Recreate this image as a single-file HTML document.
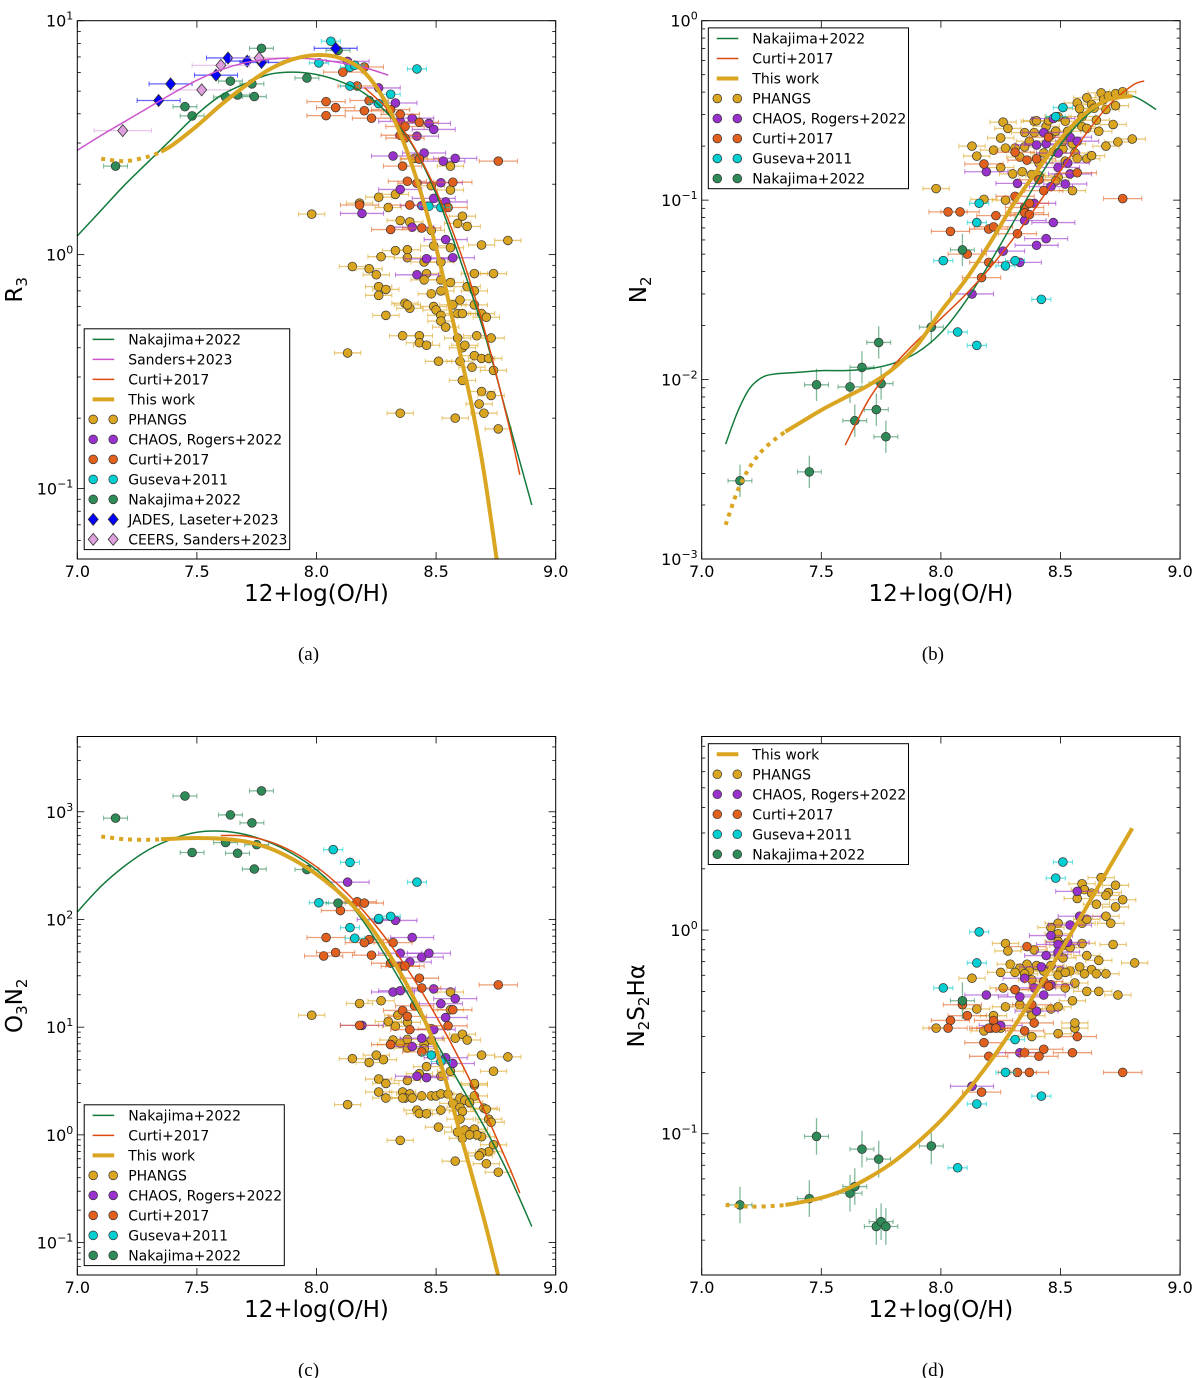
<!DOCTYPE html>
<html><head><meta charset="utf-8"><style>
html,body{margin:0;padding:0;background:#fff;}
svg{display:block;font-family:"DejaVu Sans","Liberation Sans",sans-serif;}
</style></head><body>
<svg id="fig" xmlns="http://www.w3.org/2000/svg" width="1200" height="1378" viewBox="0 0 1200 1378"></svg>
<script>
// ---------------- DATA ----------------
// panel a : R3
const a_phangs=[[8.41,2.58],[8.56,2.39],[8.48,1.97],[8.56,1.89],[8.26,1.76],[8.33,1.81],[8.30,1.59],[8.18,1.66],[7.98,1.49],[8.35,1.40],[8.39,1.38],[8.48,1.27],[8.59,1.36],[8.61,1.46],[8.63,1.32],[8.49,1.09],[8.56,1.07],[8.69,1.10],[8.80,1.15],[8.33,1.04],[8.38,1.05],[8.38,0.97],[8.27,0.98],[8.45,0.93],[8.52,0.93],[8.46,0.83],[8.45,0.78],[8.52,0.78],[8.56,0.76],[8.66,0.83],[8.74,0.83],[8.15,0.89],[8.22,0.87],[8.25,0.82],[8.26,0.73],[8.29,0.71],[8.26,0.67],[8.48,0.68],[8.52,0.70],[8.63,0.73],[8.66,0.70],[8.60,0.64],[8.57,0.61],[8.66,0.61],[8.37,0.62],[8.39,0.59],[8.38,0.61],[8.49,0.60],[8.50,0.58],[8.52,0.55],[8.52,0.52],[8.59,0.56],[8.61,0.56],[8.69,0.56],[8.71,0.54],[8.29,0.55],[8.54,0.49],[8.36,0.45],[8.43,0.45],[8.43,0.42],[8.46,0.41],[8.59,0.44],[8.67,0.45],[8.73,0.44],[8.61,0.40],[8.62,0.41],[8.13,0.38],[8.51,0.35],[8.60,0.35],[8.66,0.37],[8.69,0.36],[8.72,0.36],[8.65,0.33],[8.74,0.32],[8.61,0.29],[8.69,0.26],[8.68,0.23],[8.73,0.25],[8.35,0.21],[8.58,0.20],[8.70,0.21],[8.76,0.18]];
const a_chaos=[[8.13,6.70],[8.26,5.16],[8.33,4.45],[8.35,3.71],[8.40,3.83],[8.47,3.64],[8.49,3.43],[8.42,3.21],[8.32,2.64],[8.45,2.72],[8.53,2.51],[8.58,2.58],[8.52,2.03],[8.35,1.90],[8.49,1.74],[8.54,1.68],[8.19,1.50],[8.44,1.62],[8.40,1.31],[8.54,1.16],[8.46,0.96],[8.57,0.97],[8.42,0.82]];
const a_curti=[[8.11,6.03],[8.20,6.34],[8.17,5.26],[8.22,4.56],[8.04,4.51],[8.08,4.25],[8.04,3.93],[8.20,4.12],[8.23,3.83],[8.31,4.17],[8.35,3.98],[8.37,3.53],[8.43,3.68],[8.35,3.24],[8.37,3.15],[8.43,2.56],[8.36,2.39],[8.76,2.51],[8.38,2.06],[8.42,2.02],[8.57,2.04],[8.18,1.63],[8.39,1.63],[8.55,1.59],[8.31,1.28],[8.44,1.30]];
const a_guseva=[[8.06,8.17],[8.01,6.60],[8.14,6.32],[8.16,6.45],[8.14,5.26],[8.31,4.85],[8.26,4.42],[8.42,6.22],[8.47,1.61],[8.52,1.59]];
const a_nakajima=[[7.16,2.39],[7.45,4.29],[7.48,3.92],[7.62,4.72],[7.67,4.81],[7.74,4.74],[7.73,5.37],[7.64,5.52],[7.77,7.62],[7.96,5.69],[8.09,7.47]];
const a_jades=[[7.34,4.56],[7.39,5.37],[7.58,5.85],[7.63,6.93],[7.71,6.72],[7.77,6.63],[8.08,7.62]];
const a_ceers=[[7.19,3.39],[7.52,5.06],[7.60,6.44],[7.76,6.93]];
const a_nakCurveX=[7.0,7.1,7.2,7.3,7.4,7.5,7.6,7.7,7.8,7.9,8.0,8.1,8.2,8.3,8.4,8.5,8.6,8.7,8.8,8.9];
const a_nakCurveLog=[0.08,0.19,0.30,0.40,0.50,0.60,0.68,0.73,0.77,0.78,0.77,0.74,0.69,0.60,0.47,0.26,-0.02,-0.33,-0.70,-1.07];
const a_sanCurveX=[7.0,7.1,7.2,7.3,7.4,7.5,7.6,7.7,7.8,7.9,8.0,8.1,8.2,8.3];
const a_sanCurveLog=[0.446,0.51,0.57,0.63,0.69,0.745,0.79,0.82,0.835,0.84,0.835,0.82,0.80,0.767];
const a_curCurveX=[8.2,8.3,8.4,8.5,8.6,8.7,8.8,8.85];
const a_curCurveLog=[0.714,0.618,0.474,0.274,0.014,-0.313,-0.712,-0.941];
const a_goldCurveX=[7.1,7.2,7.3,7.35,7.4,7.5,7.6,7.7,7.8,7.9,8.0,8.1,8.2,8.3,8.4,8.5,8.6,8.65,8.7,8.76];
const a_goldCurveLog=[0.41,0.40,0.42,0.44,0.47,0.55,0.64,0.72,0.79,0.835,0.853,0.84,0.78,0.63,0.38,0.03,-0.42,-0.65,-0.93,-1.35];

// panel b : N2
const b_phangs=[[7.98,0.116],[8.13,0.200],[8.15,0.176],[8.18,0.101],[8.22,0.190],[8.25,0.152],[8.25,0.222],[8.26,0.272],[8.27,0.195],[8.28,0.251],[8.30,0.140],[8.31,0.195],[8.33,0.174],[8.34,0.144],[8.35,0.238],[8.35,0.198],[8.37,0.213],[8.39,0.238],[8.39,0.275],[8.38,0.139],[8.40,0.277],[8.41,0.161],[8.43,0.183],[8.44,0.258],[8.45,0.277],[8.46,0.230],[8.47,0.186],[8.48,0.242],[8.49,0.134],[8.49,0.292],[8.51,0.193],[8.51,0.213],[8.52,0.275],[8.53,0.242],[8.55,0.206],[8.56,0.183],[8.55,0.113],[8.57,0.171],[8.57,0.348],[8.58,0.323],[8.59,0.257],[8.59,0.292],[8.61,0.251],[8.61,0.170],[8.61,0.372],[8.63,0.341],[8.64,0.325],[8.65,0.279],[8.66,0.242],[8.67,0.396],[8.68,0.363],[8.69,0.320],[8.70,0.382],[8.72,0.264],[8.73,0.336],[8.73,0.392],[8.74,0.211],[8.69,0.200],[8.76,0.402],[8.80,0.219],[8.63,0.177],[8.27,0.100],[8.41,0.137],[8.48,0.128],[8.52,0.165]];
const b_chaos=[[8.19,0.144],[8.32,0.124],[8.39,0.096],[8.35,0.077],[8.47,0.075],[8.44,0.061],[8.40,0.056],[8.26,0.052],[8.33,0.045],[8.13,0.030],[8.40,0.203],[8.44,0.206],[8.43,0.238],[8.47,0.285],[8.49,0.183],[8.49,0.152],[8.54,0.140],[8.52,0.123],[8.54,0.224],[8.57,0.213],[8.53,0.161],[8.46,0.119]];
const b_curti=[[8.03,0.086],[8.08,0.086],[8.04,0.067],[8.18,0.159],[8.20,0.069],[8.22,0.071],[8.23,0.082],[8.31,0.105],[8.31,0.185],[8.35,0.091],[8.35,0.085],[8.37,0.096],[8.36,0.167],[8.40,0.170],[8.41,0.130],[8.43,0.113],[8.45,0.224],[8.32,0.065],[8.11,0.050],[8.20,0.045],[8.17,0.037],[8.57,0.142],[8.76,0.102],[8.37,0.083]];
const b_guseva=[[8.01,0.046],[8.07,0.0184],[8.15,0.0155],[8.15,0.075],[8.16,0.096],[8.27,0.043],[8.31,0.046],[8.42,0.028],[8.48,0.292],[8.51,0.328]];
const b_nakajima=[[7.16,0.00273],[7.45,0.00306],[7.48,0.00935],[7.62,0.0091],[7.64,0.0059],[7.67,0.0117],[7.73,0.0068],[7.75,0.0095],[7.74,0.0161],[7.77,0.0048],[7.96,0.0196],[8.09,0.0528]];
const b_nakCurveX=[7.1,7.15,7.2,7.25,7.3,7.4,7.5,7.6,7.7,7.8,7.9,8.0,8.1,8.2,8.3,8.4,8.5,8.6,8.7,8.8,8.9];
const b_nakCurveLog=[-2.36,-2.18,-2.05,-1.99,-1.97,-1.96,-1.95,-1.95,-1.94,-1.91,-1.85,-1.74,-1.57,-1.36,-1.13,-0.90,-0.69,-0.54,-0.44,-0.42,-0.495];
const b_curCurveX=[7.6,7.7,7.8,7.9,8.0,8.1,8.2,8.3,8.4,8.5,8.6,8.7,8.8,8.85];
const b_curCurveLog=[-2.365,-2.108,-1.927,-1.785,-1.66,-1.531,-1.385,-1.219,-1.034,-0.836,-0.642,-0.474,-0.361,-0.336];
const b_goldCurveX=[7.1,7.15,7.2,7.25,7.3,7.35,7.4,7.5,7.6,7.7,7.8,7.9,8.0,8.1,8.2,8.3,8.4,8.5,8.6,8.7,8.8];
const b_goldCurveLog=[-2.81,-2.62,-2.49,-2.40,-2.34,-2.29,-2.25,-2.17,-2.10,-2.03,-1.94,-1.81,-1.62,-1.45,-1.25,-1.03,-0.84,-0.66,-0.52,-0.44,-0.42];

// panel c : O3N2
const c_phangs=[[8.56,21.2],[8.27,17.6],[8.18,16.6],[7.98,12.9],[8.30,11.3],[8.34,12.9],[8.33,10.2],[8.38,11.1],[8.32,7.6],[8.35,7.1],[8.38,7.7],[8.48,9.7],[8.48,7.6],[8.45,6.9],[8.58,7.9],[8.61,8.6],[8.63,7.6],[8.56,14.5],[8.31,6.9],[8.38,6.4],[8.28,5.0],[8.25,5.5],[8.15,5.1],[8.22,4.7],[8.45,6.3],[8.46,4.3],[8.43,3.7],[8.52,3.5],[8.56,3.9],[8.69,5.5],[8.80,5.3],[8.74,3.9],[8.26,3.3],[8.29,3.0],[8.38,3.2],[8.36,2.5],[8.39,2.4],[8.37,2.2],[8.44,2.3],[8.48,2.3],[8.50,2.3],[8.52,2.4],[8.55,2.4],[8.26,2.5],[8.29,2.2],[8.36,2.2],[8.40,2.2],[8.66,2.9],[8.66,2.3],[8.60,2.2],[8.62,2.1],[8.57,1.96],[8.60,1.80],[8.61,1.65],[8.64,2.0],[8.66,3.0],[8.70,1.77],[8.71,1.73],[8.42,1.70],[8.43,1.58],[8.46,1.57],[8.52,1.70],[8.60,1.40],[8.51,1.18],[8.59,1.06],[8.62,1.11],[8.65,1.08],[8.66,1.13],[8.61,0.93],[8.69,0.96],[8.67,1.0],[8.74,0.81],[8.72,0.70],[8.69,0.68],[8.68,0.64],[8.72,1.40],[8.73,1.31],[8.35,0.89],[8.58,0.57],[8.71,0.54],[8.76,0.45],[8.13,1.91],[8.64,1.0]];
const c_chaos=[[8.13,222],[8.26,100],[8.33,98],[8.40,68],[8.35,48.6],[8.39,40.3],[8.44,44.7],[8.47,48.6],[8.32,21.2],[8.35,21.8],[8.49,22.7],[8.58,18.4],[8.52,16.5],[8.54,12.3],[8.49,9.5],[8.44,7.9],[8.40,6.6],[8.54,5.2],[8.57,4.6],[8.19,10.4],[8.42,3.5],[8.46,3.4]];
const c_curti=[[8.17,146],[8.20,142],[8.10,121],[8.04,68],[8.22,65],[8.20,61],[8.03,45.8],[8.08,49.4],[8.23,46.6],[8.32,61],[8.31,39.3],[8.35,36.7],[8.37,37],[8.43,28.5],[8.44,23.1],[8.41,15.8],[8.36,14.3],[8.38,12.6],[8.57,14.5],[8.55,10.3],[8.39,9.5],[8.44,5.9],[8.18,10.4],[8.31,6.9],[8.76,24.7]];
const c_guseva=[[8.07,445],[8.14,339],[8.01,143],[8.14,84],[8.16,67],[8.26,102],[8.31,107],[8.42,222],[8.48,5.5],[8.52,4.8]];
const c_nakajima=[[7.16,873],[7.45,1402],[7.77,1563],[7.64,935],[7.73,789],[7.48,419],[7.62,518],[7.67,412],[7.75,495],[7.74,294],[7.96,291],[8.09,142]];
const c_nakCurveX=[7.0,7.1,7.2,7.3,7.4,7.5,7.6,7.7,7.8,7.9,8.0,8.1,8.2,8.3,8.4,8.5,8.6,8.7,8.8,8.9];
const c_nakCurveLog=[2.07,2.31,2.50,2.65,2.75,2.81,2.82,2.79,2.72,2.61,2.46,2.25,1.97,1.62,1.24,0.86,0.47,0.08,-0.35,-0.85];
const c_curCurveX=[7.6,7.7,7.8,7.9,8.0,8.1,8.2,8.3,8.4,8.5,8.6,8.7,8.8,8.85];
const c_curCurveLog=[2.78,2.775,2.726,2.63,2.489,2.303,2.071,1.794,1.472,1.104,0.692,0.233,-0.270,-0.539];
const c_goldCurveX=[7.1,7.2,7.3,7.35,7.4,7.5,7.6,7.7,7.8,7.9,8.0,8.1,8.2,8.3,8.4,8.5,8.6,8.7,8.77];
const c_goldCurveLog=[2.77,2.745,2.74,2.745,2.75,2.757,2.75,2.725,2.665,2.56,2.42,2.24,2.01,1.69,1.30,0.80,0.02,-0.78,-1.40];

// panel d : N2S2Ha
const d_phangs=[[8.67,1.81],[8.59,1.69],[8.60,1.58],[8.63,1.52],[8.73,1.66],[8.70,1.53],[8.57,1.43],[8.69,1.48],[8.76,1.41],[8.65,1.34],[8.73,1.30],[8.69,1.17],[8.71,1.08],[8.49,1.08],[8.59,1.08],[8.61,1.13],[8.46,1.03],[8.49,0.96],[8.49,0.88],[8.51,0.84],[8.54,0.82],[8.59,0.86],[8.72,0.85],[8.27,0.86],[8.28,0.79],[8.39,0.80],[8.49,0.76],[8.51,0.73],[8.61,0.75],[8.29,0.68],[8.36,0.68],[8.40,0.67],[8.33,0.65],[8.37,0.63],[8.43,0.63],[8.46,0.67],[8.50,0.63],[8.54,0.63],[8.58,0.66],[8.63,0.64],[8.66,0.71],[8.25,0.62],[8.31,0.62],[8.35,0.61],[8.49,0.60],[8.52,0.62],[8.60,0.61],[8.65,0.61],[8.69,0.61],[8.13,0.58],[8.26,0.52],[8.31,0.51],[8.38,0.57],[8.52,0.52],[8.56,0.55],[8.61,0.50],[8.66,0.50],[8.74,0.48],[8.43,0.55],[8.81,0.69],[8.15,0.41],[8.27,0.42],[8.33,0.43],[8.37,0.41],[8.46,0.41],[8.49,0.42],[8.55,0.45],[8.38,0.38],[8.22,0.38],[8.25,0.33],[8.18,0.32],[8.38,0.30],[8.49,0.31],[8.56,0.33],[8.56,0.35],[7.98,0.33]];
const d_chaos=[[8.57,1.55],[8.58,1.17],[8.54,1.06],[8.46,0.94],[8.53,0.87],[8.49,0.85],[8.49,0.78],[8.44,0.75],[8.42,0.66],[8.35,0.58],[8.39,0.52],[8.33,0.47],[8.43,0.48],[8.46,0.54],[8.19,0.48],[8.25,0.34],[8.40,0.40],[8.33,0.25],[8.13,0.171]];
const d_curti=[[8.36,0.83],[8.31,0.51],[8.43,0.56],[8.45,0.53],[8.09,0.43],[8.11,0.38],[8.04,0.36],[8.03,0.33],[8.22,0.36],[8.21,0.33],[8.20,0.33],[8.23,0.33],[8.18,0.28],[8.20,0.24],[8.35,0.32],[8.39,0.35],[8.38,0.43],[8.35,0.25],[8.43,0.26],[8.41,0.24],[8.57,0.30],[8.55,0.25],[8.32,0.20],[8.37,0.20],[8.17,0.16],[8.76,0.20]];
const d_guseva=[[8.51,2.16],[8.48,1.80],[8.16,0.98],[8.15,0.69],[8.01,0.52],[8.07,0.068],[8.15,0.14],[8.27,0.20],[8.31,0.29],[8.42,0.153]];
const d_nakajima=[[7.16,0.0447],[7.45,0.048],[7.48,0.097],[7.62,0.051],[7.64,0.055],[7.67,0.084],[7.73,0.035],[7.75,0.037],[7.74,0.075],[7.77,0.035],[7.96,0.087],[8.09,0.45]];
const d_goldCurveX=[7.1,7.2,7.3,7.35,7.4,7.5,7.6,7.7,7.8,7.9,8.0,8.1,8.2,8.3,8.4,8.5,8.6,8.7,8.8];
const d_goldCurveLog=[-1.35,-1.358,-1.355,-1.35,-1.34,-1.315,-1.275,-1.215,-1.14,-1.045,-0.935,-0.805,-0.655,-0.485,-0.30,-0.105,0.095,0.30,0.50];

const xTicks=[7.0,7.5,8.0,8.5,9.0];
const xTickLabels=["7.0","7.5","8.0","8.5","9.0"];

// ---------------- DRAWING ----------------
const NS="http://www.w3.org/2000/svg";
const svg=document.getElementById('fig');
function el(tag,attrs,parent){const e=document.createElementNS(NS,tag);for(const k in attrs)e.setAttribute(k,attrs[k]);(parent||svg).appendChild(e);return e;}

const COL={phangs:'#DAA520',chaos:'#9932CC',curti:'#E2601E',guseva:'#00CED1',nakajima:'#2E8B57',jades:'#0000FF',ceers:'#DDA0DD'};
const XERR={phangs:0.055,chaos:0.09,curti:0.08,guseva:0.04,nakajima:0.05,jades:0.09,ceers:0.12};
const LCOL={nak:'#127A3C',san:'#CC55CC',cur:'#DD4A10',gold:'#DAA520'};

function panel(id,g,cfg){
  const grp=el('g',{});
  
  
  const sx=x=>g.L+(x-7)/2*(g.R-g.L);
  const sy=v=>g.T+(g.lt-Math.log10(v))/(g.lt-g.lb)*(g.B-g.T);
  const syl=l=>g.T+(g.lt-l)/(g.lt-g.lb)*(g.B-g.T);
  const cid='clip-'+id;
  const cp=el('clipPath',{id:cid},grp);el('rect',{x:g.L,y:g.T,width:g.R-g.L,height:g.B-g.T},cp);
  el('rect',{x:g.L,y:g.T,width:g.R-g.L,height:g.B-g.T,fill:'#fff'},grp);
  const plot=el('g',{'clip-path':'url(#'+cid+')'},grp);
  const drawSeries=(name,pts,shape)=>{
    const sg=el('g',{},plot);
    
    
    pts.forEach(p=>{
      const cx=sx(p[0]),cy=sy(p[1]),e=XERR[name];
      const x1=sx(p[0]-e),x2=sx(p[0]+e);
      el('line',{x1:x1,y1:cy,x2:x2,y2:cy,stroke:COL[name],'stroke-width':1.3,'stroke-opacity':0.6},sg);
      el('line',{x1:x1,y1:cy-2.5,x2:x1,y2:cy+2.5,stroke:COL[name],'stroke-width':1,'stroke-opacity':0.6},sg);
      el('line',{x1:x2,y1:cy-2.5,x2:x2,y2:cy+2.5,stroke:COL[name],'stroke-width':1,'stroke-opacity':0.6},sg);
      if(name==='nakajima'&&(id==='b'||id==='d')){
        const y1=syl(Math.log10(p[1])+0.09),y2=syl(Math.log10(p[1])-0.09);
        el('line',{x1:cx,y1:y1,x2:cx,y2:y2,stroke:COL[name],'stroke-width':1.3,'stroke-opacity':0.6},sg);
      }
      if(shape==='d'){
        el('polygon',{points:`${cx},${cy-6} ${cx+5},${cy} ${cx},${cy+6} ${cx-5},${cy}`,fill:COL[name],stroke:'#333','stroke-width':0.8},sg);
      }else{
        el('circle',{cx:cx,cy:cy,r:4.4,fill:COL[name],stroke:'#333','stroke-width':0.7},sg);
      }
    });
  };
  cfg.series.forEach(s=>drawSeries(s[0],s[1],s[2]));
  const smooth=pts=>{let d=`M${pts[0][0]},${pts[0][1]}`;for(let i=0;i<pts.length-1;i++){const p0=pts[Math.max(i-1,0)],p1=pts[i],p2=pts[i+1],p3=pts[Math.min(i+2,pts.length-1)];
    d+=` C${p1[0]+(p2[0]-p0[0])/6},${p1[1]+(p2[1]-p0[1])/6} ${p2[0]-(p3[0]-p1[0])/6},${p2[1]-(p3[1]-p1[1])/6} ${p2[0]},${p2[1]}`;}return d;};
  cfg.curves.forEach(c=>{
    const pts=c.x.map((x,i)=>[sx(x),syl(c.y[i])]);
    if(c.split){
      const dot=pts.filter((p,i)=>c.x[i]<=c.split),sol=pts.filter((p,i)=>c.x[i]>=c.split);
      const p1=el('path',{d:smooth(dot),fill:'none',stroke:c.color,'stroke-width':c.w,'stroke-dasharray':'4,5'},plot);
      
      
      const p2=el('path',{d:smooth(sol),fill:'none',stroke:c.color,'stroke-width':c.w},plot);
      
      
    }else{
      const p=el('path',{d:smooth(pts),fill:'none',stroke:c.color,'stroke-width':c.w},plot);
      
      
    }
  });
  el('rect',{x:g.L,y:g.T,width:g.R-g.L,height:g.B-g.T,fill:'none',stroke:'#000','stroke-width':1},grp);
  const xg=el('g',{},grp);
  
  
  xTicks.forEach((t,i)=>{const x=sx(t);
    el('line',{x1:x,y1:g.B,x2:x,y2:g.B-7,stroke:'#000','stroke-width':0.8},xg);
    el('line',{x1:x,y1:g.T,x2:x,y2:g.T+7,stroke:'#000','stroke-width':0.8},xg);
    const tx=el('text',{x:x,y:g.B+18,'font-size':16,'text-anchor':'middle'},xg);tx.textContent=xTickLabels[i];
    
    
  });
  const xl=el('text',{x:(g.L+g.R)/2,y:g.B+42,'font-size':23,'text-anchor':'middle'},grp);xl.textContent='12+log(O/H)';
  
  
  const yg=el('g',{},grp);
  
  
  for(let dcd=Math.floor(g.lb);dcd<=Math.ceil(g.lt);dcd++){
    for(let m=1;m<10;m++){const l=dcd+Math.log10(m);if(l<g.lb-1e-6||l>g.lt+1e-6)continue;const y=syl(l);const len=m===1?7:3.5;
      el('line',{x1:g.L,y1:y,x2:g.L+len,y2:y,stroke:'#000','stroke-width':0.8},yg);
      el('line',{x1:g.R,y1:y,x2:g.R-len,y2:y,stroke:'#000','stroke-width':0.8},yg);
      if(m===1){const t=el('text',{x:g.L-4,y:y+6,'font-size':16,'text-anchor':'end'},yg);
        t.appendChild(document.createTextNode('10'));
        const s=el('tspan',{dy:-7,'font-size':11},t);s.textContent=(dcd<0?'\u2212'+(-dcd):String(dcd));
        
        }
    }
  }
  const ylc=(g.T+g.B)/2;
  const yl=el('text',{x:g.ylx,y:ylc,'font-size':23,'text-anchor':'middle',transform:`rotate(-90 ${g.ylx} ${ylc})`},grp);
  cfg.ylabel.forEach(part=>{
    const a={};
    if(part[1]==='sub'){a['font-size']=15;a.dy=5;}
    else if(part[1]==='up'){a.dy=-5;}
    const s=el('tspan',a,yl);s.textContent=part[0];});
  
  
  const lg=el('g',{},grp);
  
  
  const L=cfg.leg;
  el('rect',{x:L.x,y:L.y,width:L.w,height:10.6*2+20*(L.items.length-1)-0.4,fill:'#fff',stroke:'#000','stroke-width':1},lg);
  L.items.forEach((it,i)=>{
    const y=L.y+10.6+20*i;
    const eg=el('g',{},lg);
    
    
    if(it.line){el('line',{x1:L.x+8.4,y1:y,x2:L.x+30,y2:y,stroke:it.color,'stroke-width':it.w},eg);}
    else{[L.x+9,L.x+29].forEach(cx=>{
      el('line',{x1:cx-4.5,y1:y,x2:cx+4.5,y2:y,stroke:COL[it.key],'stroke-width':1.2,'stroke-opacity':0.6},eg);
      el('line',{x1:cx,y1:y-4.5,x2:cx,y2:y+4.5,stroke:COL[it.key],'stroke-width':1.2,'stroke-opacity':0.6},eg);
      if(it.diamond)el('polygon',{points:`${cx},${y-6} ${cx+5},${y} ${cx},${y+6} ${cx-5},${y}`,fill:COL[it.key],stroke:'#333','stroke-width':0.8},eg);
      else el('circle',{cx:cx,cy:y,r:4.4,fill:COL[it.key],stroke:'#333','stroke-width':0.7},eg);});}
    const t=el('text',{x:L.x+44,y:y+5,'font-size':14},eg);t.textContent=it.label;
  });
  const cap=el('text',{x:(g.L+g.R)/2-8,y:g.B+101,'font-size':19,'text-anchor':'middle','font-family':'"Liberation Serif",serif'},grp);cap.textContent='('+id+')';
  
  
}

const ptsLeg=[{key:'phangs',label:'PHANGS'},{key:'chaos',label:'CHAOS, Rogers+2022'},{key:'curti',label:'Curti+2017'},{key:'guseva',label:'Guseva+2011'},{key:'nakajima',label:'Nakajima+2022'}];
const lNak={line:1,color:LCOL.nak,w:1.5,label:'Nakajima+2022'},lSan={line:1,color:LCOL.san,w:1.5,label:'Sanders+2023'},lCur={line:1,color:LCOL.cur,w:1.5,label:'Curti+2017'},lGold={line:1,color:LCOL.gold,w:4,label:'This work'};

panel('a',{L:77.3,R:555.7,T:20.7,B:559,lt:1,lb:-1.301,ylx:22},{
  series:[['phangs',a_phangs],['chaos',a_chaos],['curti',a_curti],['guseva',a_guseva],['nakajima',a_nakajima],['jades',a_jades,'d'],['ceers',a_ceers,'d']],
  curves:[{name:'nakajima-curve',x:a_nakCurveX,y:a_nakCurveLog,color:LCOL.nak,w:1.5},{name:'sanders-curve',x:a_sanCurveX,y:a_sanCurveLog,color:LCOL.san,w:1.5},{name:'curti-curve',x:a_curCurveX,y:a_curCurveLog,color:LCOL.cur,w:1.5},{name:'this-work-curve',x:a_goldCurveX,y:a_goldCurveLog,color:LCOL.gold,w:4,split:7.35}],
  ylabel:[['R'],['3','sub']],
  leg:{x:84.2,y:328.8,w:205.5,items:[lNak,lSan,lCur,lGold,...ptsLeg,{key:'jades',label:'JADES, Laseter+2023',diamond:1},{key:'ceers',label:'CEERS, Sanders+2023',diamond:1}]}
});
panel('b',{L:701.7,R:1180.1,T:20.7,B:559,lt:0,lb:-3,ylx:646},{
  series:[['phangs',b_phangs],['chaos',b_chaos],['curti',b_curti],['guseva',b_guseva],['nakajima',b_nakajima]],
  curves:[{name:'nakajima-curve',x:b_nakCurveX,y:b_nakCurveLog,color:LCOL.nak,w:1.5},{name:'curti-curve',x:b_curCurveX,y:b_curCurveLog,color:LCOL.cur,w:1.5},{name:'this-work-curve',x:b_goldCurveX,y:b_goldCurveLog,color:LCOL.gold,w:4,split:7.35}],
  ylabel:[['N'],['2','sub']],
  leg:{x:708.3,y:27.9,w:200.2,items:[lNak,lCur,lGold,...ptsLeg]}
});
panel('c',{L:77.3,R:555.7,T:736.5,B:1275,lt:3.699,lb:-1.301,ylx:22},{
  series:[['phangs',c_phangs],['chaos',c_chaos],['curti',c_curti],['guseva',c_guseva],['nakajima',c_nakajima]],
  curves:[{name:'nakajima-curve',x:c_nakCurveX,y:c_nakCurveLog,color:LCOL.nak,w:1.5},{name:'curti-curve',x:c_curCurveX,y:c_curCurveLog,color:LCOL.cur,w:1.5},{name:'this-work-curve',x:c_goldCurveX,y:c_goldCurveLog,color:LCOL.gold,w:4,split:7.35}],
  ylabel:[['O'],['3','sub'],['N','up'],['2','sub']],
  leg:{x:84.2,y:1104.8,w:200.1,items:[lNak,lCur,lGold,...ptsLeg]}
});
panel('d',{L:701.7,R:1180.1,T:736.5,B:1275,lt:0.951,lb:-1.694,ylx:644},{
  series:[['phangs',d_phangs],['chaos',d_chaos],['curti',d_curti],['guseva',d_guseva],['nakajima',d_nakajima]],
  curves:[{name:'this-work-curve',x:d_goldCurveX,y:d_goldCurveLog,color:LCOL.gold,w:4,split:7.35}],
  ylabel:[['N'],['2','sub'],['S','up'],['2','sub'],['H\u03B1','up']],
  leg:{x:708.3,y:743.7,w:200.2,items:[lGold,...ptsLeg]}
});
</script>
</body></html>
